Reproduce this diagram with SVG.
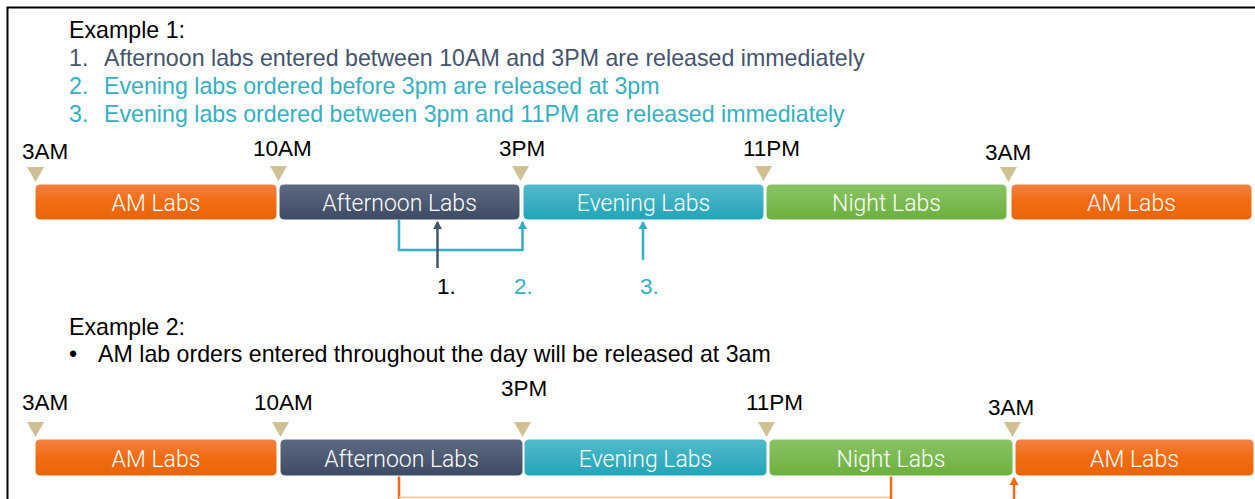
<svg xmlns="http://www.w3.org/2000/svg" width="1255" height="499" viewBox="0 0 1255 499">
<defs>
<linearGradient id="gOr" x1="0" y1="0" x2="0" y2="1"><stop offset="0" stop-color="#F28245"/><stop offset="0.5" stop-color="#F26B10"/><stop offset="1" stop-color="#E8650A"/></linearGradient>
<linearGradient id="gSl" x1="0" y1="0" x2="0" y2="1"><stop offset="0" stop-color="#5C6A82"/><stop offset="1" stop-color="#3C4A63"/></linearGradient>
<linearGradient id="gTe" x1="0" y1="0" x2="0" y2="1"><stop offset="0" stop-color="#52BBCA"/><stop offset="1" stop-color="#22A4B8"/></linearGradient>
<linearGradient id="gGr" x1="0" y1="0" x2="0" y2="1"><stop offset="0" stop-color="#8AC466"/><stop offset="1" stop-color="#6BB03C"/></linearGradient>
<marker id="aSl" markerWidth="10" markerHeight="10" refX="5" refY="1" orient="0" markerUnits="userSpaceOnUse"><path d="M5,0 L9.5,8 L0.5,8 Z" fill="#44546A"/></marker>
<marker id="aTe" markerWidth="10" markerHeight="10" refX="5" refY="1" orient="0" markerUnits="userSpaceOnUse"><path d="M5,0 L9.5,8 L0.5,8 Z" fill="#35AFC1"/></marker>
<marker id="aOr" markerWidth="10" markerHeight="10" refX="5" refY="1" orient="0" markerUnits="userSpaceOnUse"><path d="M5,0 L9.5,8 L0.5,8 Z" fill="#EE6A14"/></marker>
</defs>
<style>
.t{font-family:"Liberation Sans",Arial,sans-serif;font-size:23.2px;fill:#000}
.tm{font-family:"Liberation Sans",Arial,sans-serif;font-size:22.5px;fill:#000}
.s{fill:#44546A}
.c{fill:#35AFC1}
.bar{stroke:#ffffff;stroke-width:1}
.bl{font-family:Roboto,"Noto Sans",sans-serif;font-weight:300;font-size:23px;fill:#ffffff;text-anchor:middle}
.tri{fill:#CFC193}
.ln{fill:none;stroke-width:2.5}
</style>
<rect width="1255" height="499" fill="#ffffff"/>
<path d="M7.5,499 V7.5 H1255" fill="none" stroke="#000" stroke-width="2"/>

<g id="example1-text">
<text class="t" x="69" y="38">Example 1:</text>
<text class="t s" x="69" y="66">1.</text><text class="t s" x="104" y="66">Afternoon labs entered between 10AM and 3PM are released immediately</text>
<text class="t c" x="69" y="94">2.</text><text class="t c" x="104" y="94">Evening labs ordered before 3pm are released at 3pm</text>
<text class="t c" x="69" y="122">3.</text><text class="t c" x="104" y="122">Evening labs ordered between 3pm and 11PM are released immediately</text>
</g>

<g id="timeline1-markers">
<text class="tm" x="22" y="159">3AM</text>
<text class="tm" x="253" y="156">10AM</text>
<text class="tm" x="499" y="156">3PM</text>
<text class="tm" x="743" y="156">11PM</text>
<text class="tm" x="985" y="160">3AM</text>
<path class="tri" d="M27,167 H44 L35.5,182 Z"/>
<path class="tri" d="M270,166 H287 L278.5,181 Z"/>
<path class="tri" d="M512,166 H529 L520.5,181 Z"/>
<path class="tri" d="M755,166 H772 L763.5,181 Z"/>
<path class="tri" d="M1000,167 H1017 L1008.5,182 Z"/>
</g>

<g id="t1-am1"><rect class="bar" x="35" y="184" width="242" height="36" rx="5" fill="url(#gOr)"/><text class="bl" x="156" y="211">AM Labs</text></g>
<g id="t1-afternoon"><rect class="bar" x="279" y="184" width="241" height="36" rx="5" fill="url(#gSl)"/><text class="bl" x="399.5" y="211">Afternoon Labs</text></g>
<g id="t1-evening"><rect class="bar" x="523" y="184" width="241" height="36" rx="5" fill="url(#gTe)"/><text class="bl" x="643.5" y="211">Evening Labs</text></g>
<g id="t1-night"><rect class="bar" x="766" y="184" width="241" height="36" rx="5" fill="url(#gGr)"/><text class="bl" x="886.5" y="211">Night Labs</text></g>
<g id="t1-am2"><rect class="bar" x="1011" y="184" width="241" height="36" rx="5" fill="url(#gOr)"/><text class="bl" x="1131.5" y="211">AM Labs</text></g>

<g id="connectors">
<path class="ln" d="M399,220 V250 H522.5 V222" stroke="#35AFC1" marker-end="url(#aTe)"/>
<path class="ln" d="M437.5,268 V222" stroke="#44546A" marker-end="url(#aSl)"/>
<path class="ln" d="M643,260 V222" stroke="#35AFC1" marker-end="url(#aTe)"/>
<path class="ln" d="M399,476 V499" stroke="#EE6A14"/>
<path d="M399,497.5 H891" fill="none" stroke="#F8C9A3" stroke-width="2"/>
<path class="ln" d="M891,476 V499" stroke="#EE6A14"/>
<path class="ln" d="M1014,499 V478" stroke="#EE6A14" marker-end="url(#aOr)"/>
</g>

<g id="connector-labels">
<text class="tm" x="437" y="294">1.</text>
<text class="tm c" x="514" y="294">2.</text>
<text class="tm c" x="640" y="294">3.</text>
</g>

<g id="example2-text">
<text class="t" x="69" y="335">Example 2:</text>
<text class="t" x="69" y="362">•</text><text class="t" x="98" y="362">AM lab orders entered throughout the day will be released at 3am</text>
</g>

<g id="timeline2-markers">
<text class="tm" x="22" y="410">3AM</text>
<text class="tm" x="254" y="410">10AM</text>
<text class="tm" x="501" y="396">3PM</text>
<text class="tm" x="746" y="410">11PM</text>
<text class="tm" x="988" y="415">3AM</text>
<path class="tri" d="M27,422 H44 L35.5,437 Z"/>
<path class="tri" d="M272,422 H289 L280.5,437 Z"/>
<path class="tri" d="M514,422 H531 L522.5,437 Z"/>
<path class="tri" d="M758,422 H775 L766.5,437 Z"/>
<path class="tri" d="M1004,422 H1021 L1012.5,437 Z"/>
</g>

<g id="t2-am1"><rect class="bar" x="35" y="439" width="242" height="37" rx="5" fill="url(#gOr)"/><text class="bl" x="156" y="467">AM Labs</text></g>
<g id="t2-afternoon"><rect class="bar" x="280" y="439" width="243" height="37" rx="5" fill="url(#gSl)"/><text class="bl" x="401.5" y="467">Afternoon Labs</text></g>
<g id="t2-evening"><rect class="bar" x="524" y="439" width="243" height="37" rx="5" fill="url(#gTe)"/><text class="bl" x="645.5" y="467">Evening Labs</text></g>
<g id="t2-night"><rect class="bar" x="769" y="439" width="244" height="37" rx="5" fill="url(#gGr)"/><text class="bl" x="891" y="467">Night Labs</text></g>
<g id="t2-am2"><rect class="bar" x="1015" y="439" width="239" height="37" rx="5" fill="url(#gOr)"/><text class="bl" x="1134.5" y="467">AM Labs</text></g>
</svg>
